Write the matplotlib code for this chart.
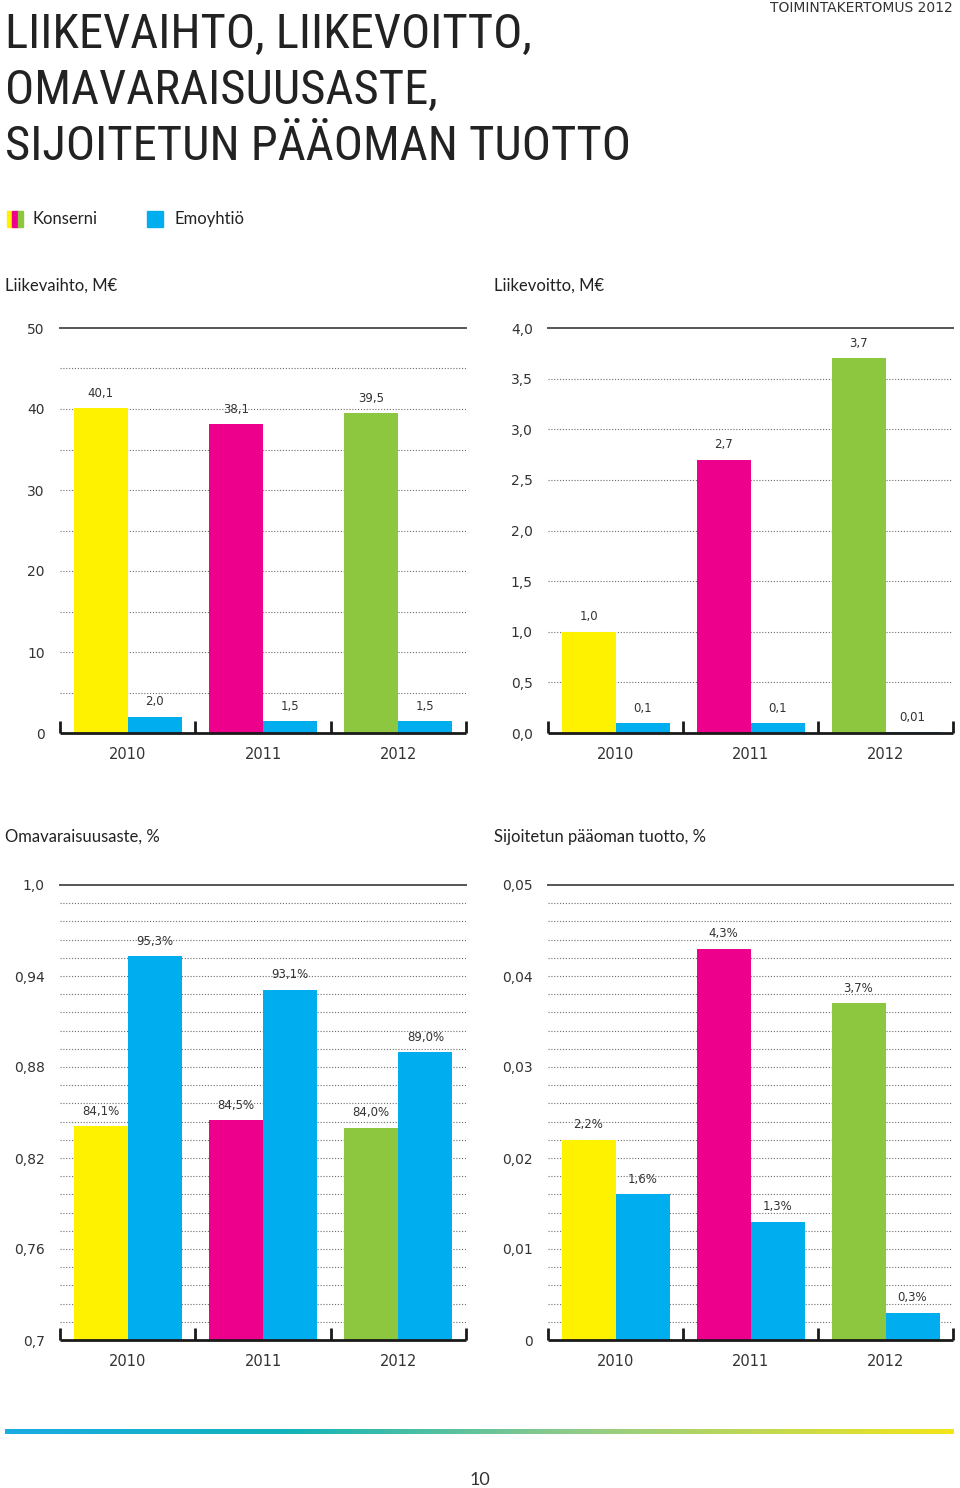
import numpy as np
import matplotlib
matplotlib.use("Agg")
import matplotlib.pyplot as plt
from matplotlib.patches import Rectangle
from matplotlib.colors import LinearSegmentedColormap

# ---------------- data ----------------
years = ["2010", "2011", "2012"]

liikevaihto_konserni = [40.1, 38.1, 39.5]
liikevaihto_emo = [2.0, 1.5, 1.5]
liikevaihto_konserni_lbl = ["40,1", "38,1", "39,5"]
liikevaihto_emo_lbl = ["2,0", "1,5", "1,5"]

liikevoitto_konserni = [1.0, 2.7, 3.7]
liikevoitto_emo = [0.1, 0.1, 0.01]
liikevoitto_konserni_lbl = ["1,0", "2,7", "3,7"]
liikevoitto_emo_lbl = ["0,1", "0,1", "0,01"]

omavar_konserni = [0.841, 0.845, 0.840]
omavar_emo = [0.953, 0.931, 0.890]
omavar_konserni_lbl = ["84,1%", "84,5%", "84,0%"]
omavar_emo_lbl = ["95,3%", "93,1%", "89,0%"]

roi_konserni = [0.022, 0.043, 0.037]
roi_emo = [0.016, 0.013, 0.003]
roi_konserni_lbl = ["2,2%", "4,3%", "3,7%"]
roi_emo_lbl = ["1,6%", "1,3%", "0,3%"]

lv_ticks = [0, 10, 20, 30, 40, 50]
lv_ticklabels = ["0", "10", "20", "30", "40", "50"]
lo_ticks = [0, 0.5, 1.0, 1.5, 2.0, 2.5, 3.0, 3.5, 4.0]
lo_ticklabels = ["0,0", "0,5", "1,0", "1,5", "2,0", "2,5", "3,0", "3,5", "4,0"]
om_ticks = [0.7, 0.76, 0.82, 0.88, 0.94, 1.0]
om_ticklabels = ["0,7", "0,76", "0,82", "0,88", "0,94", "1,0"]
roi_ticks = [0, 0.01, 0.02, 0.03, 0.04, 0.05]
roi_ticklabels = ["0", "0,01", "0,02", "0,03", "0,04", "0,05"]

# ---------------- style ----------------
YELLOW = "#FFF200"
PINK = "#EC008C"
GREEN = "#8DC63F"
BLUE = "#00AEEF"
konserni_colors = [YELLOW, PINK, GREEN]
TXT = "#222222"
NUMFONT = ["DejaVu Sans"]
LABFONT = ["Lato", "DejaVu Sans"]
TITLEFONT = ["Roboto Condensed", "PT Sans Narrow", "DejaVu Sans"]

W, H = 960, 1488
fig = plt.figure(figsize=(W / 100, H / 100), dpi=100)


def fx(px):
    return px / W


def fy(py):
    return 1 - py / H


def panel(left, top, right, bottom, kons, emo, klbl, elbl, ylim, ticks, ticklabels, gstep):
    ax = fig.add_axes([fx(left), fy(bottom), fx(right - left), (bottom - top) / H])
    x = np.arange(len(years))
    ax.set_xlim(-0.5, 2.5)
    ax.set_ylim(*ylim)
    # dotted grid
    gl = np.arange(ylim[0] + gstep, ylim[1] - gstep / 2, gstep)
    ax.hlines(gl, -0.5, 2.5, colors="#6d6d6d", linestyles=(0, (1, 1.6)), linewidth=0.8, zorder=1)
    b1 = ax.bar(x - 0.2, kons, width=0.4, color=konserni_colors, zorder=2, bottom=0)
    b2 = ax.bar(x + 0.2, emo, width=0.4, color=BLUE, zorder=2, bottom=0)
    for bars, lbls in ((b1, klbl), (b2, elbl)):
        for r, l in zip(bars, lbls):
            ax.annotate(l, (r.get_x() + r.get_width() / 2, r.get_height()),
                        xytext=(0, 6), textcoords="offset points",
                        ha="center", va="bottom", fontsize=8.5, color="#333333",
                        family=NUMFONT, zorder=3)
    for s in ("left", "right"):
        ax.spines[s].set_visible(False)
    ax.spines["top"].set_color("#555555")
    ax.spines["top"].set_linewidth(1.4)
    ax.spines["bottom"].set_color("#1a1a1a")
    ax.spines["bottom"].set_linewidth(2.0)
    ax.spines["bottom"].set_capstyle("butt")
    ax.set_yticks(ticks)
    ax.set_yticklabels(ticklabels, family=NUMFONT, fontsize=10, color="#333333")
    ax.tick_params(axis="y", length=0, pad=11)
    ax.set_xticks([-0.5, 0.5, 1.5, 2.5])
    ax.set_xticklabels([])
    ax.tick_params(axis="x", which="major", direction="in", length=9, width=2, color="#1a1a1a")
    ax.set_xticks(x, minor=True)
    ax.set_xticklabels(years, minor=True, family=NUMFONT, fontsize=10.5, color="#333333")
    ax.tick_params(axis="x", which="minor", length=0, pad=10)
    return ax


panel(60, 328, 466, 733, liikevaihto_konserni, liikevaihto_emo,
      liikevaihto_konserni_lbl, liikevaihto_emo_lbl, (0, 50), lv_ticks, lv_ticklabels, 5)
panel(548, 328, 953, 733, liikevoitto_konserni, liikevoitto_emo,
      liikevoitto_konserni_lbl, liikevoitto_emo_lbl, (0, 4), lo_ticks, lo_ticklabels, 0.5)
panel(60, 885, 466, 1340, omavar_konserni, omavar_emo,
      omavar_konserni_lbl, omavar_emo_lbl, (0.7, 1.0), om_ticks, om_ticklabels, 0.012)
panel(548, 885, 953, 1340, roi_konserni, roi_emo,
      roi_konserni_lbl, roi_emo_lbl, (0, 0.05), roi_ticks, roi_ticklabels, 0.002)

# ---------------- texts ----------------
title_lines = ["LIIKEVAIHTO, LIIKEVOITTO,", "OMAVARAISUUSASTE,", "SIJOITETUN PÄÄOMAN TUOTTO"]
for i, t in enumerate(title_lines):
    fig.text(fx(5), fy(48 + 56 * i), t, ha="left", va="baseline",
             family=TITLEFONT, fontsize=35, color=TXT)

fig.text(fx(953), fy(8), "TOIMINTAKERTOMUS 2012", ha="right", va="center",
         family=NUMFONT, fontsize=10, color="#333333")

# legend
for k, c in enumerate(konserni_colors):
    fig.patches.append(Rectangle((fx(7 + 5.3 * k), fy(227)), fx(5.4), 16 / H,
                                 transform=fig.transFigure, color=c))
fig.text(fx(33), fy(219), "Konserni", ha="left", va="center", family=LABFONT, fontsize=12, color=TXT)
fig.patches.append(Rectangle((fx(147), fy(227)), fx(16), 16 / H, transform=fig.transFigure, color=BLUE))
fig.text(fx(175), fy(219), "Emoyhtiö", ha="left", va="center", family=LABFONT, fontsize=12, color=TXT)

subtitles = [(5, 286, "Liikevaihto, M€"), (494, 286, "Liikevoitto, M€"),
             (5, 837, "Omavaraisuusaste, %"), (494, 837, "Sijoitetun pääoman tuotto, %")]
for sx, sy, st in subtitles:
    fig.text(fx(sx), fy(sy), st, ha="left", va="center", family=LABFONT, fontsize=12, color=TXT)

# gradient rule
gax = fig.add_axes([fx(5), fy(1434), fx(948), 5 / H])
cmap = LinearSegmentedColormap.from_list("g", [(0.0, "#1AACE3"), (0.3, "#12B4B9"),
                                              (0.6, "#8FCB8A"), (1.0, "#F3E61A")])
gax.imshow(np.linspace(0, 1, 512)[None, :], aspect="auto", cmap=cmap, extent=(0, 1, 0, 1))
gax.set_axis_off()

fig.text(fx(480), fy(1480), "10", ha="center", va="center", family=LABFONT,
         fontsize=13, color="#333333")

fig.savefig("out.png", dpi=100)
